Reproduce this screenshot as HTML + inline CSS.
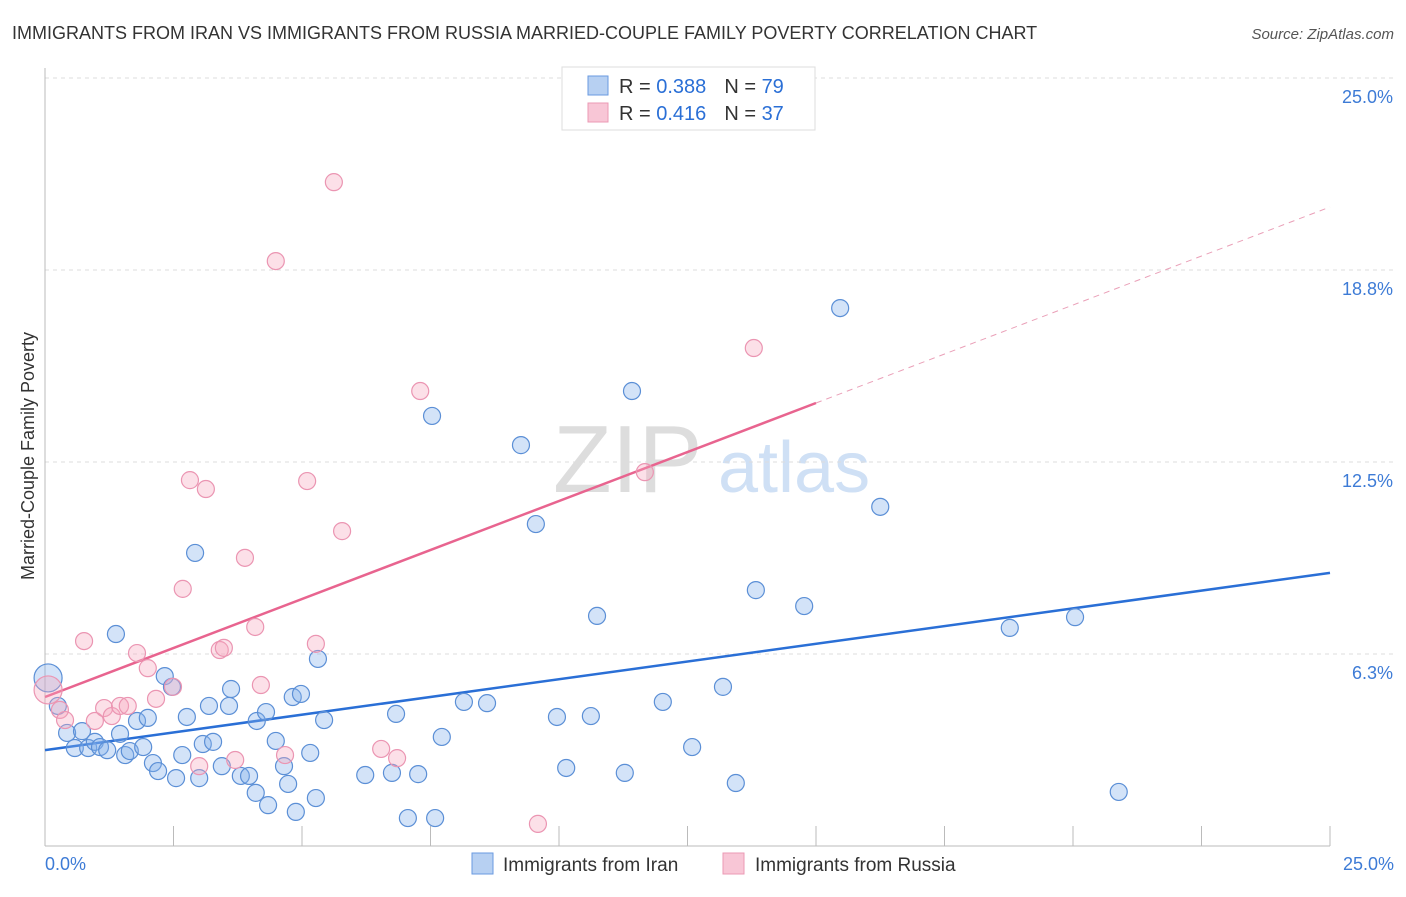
<!DOCTYPE html>
<html><head><meta charset="utf-8"><style>
body{margin:0;background:#fff;font-family:"Liberation Sans",sans-serif}
svg text{font-family:"Liberation Sans",sans-serif}
</style></head><body>
<svg id="chart" width="1406" height="892" viewBox="0 0 1406 892">
<text x="12" y="39" font-size="18" fill="#333">IMMIGRANTS FROM IRAN VS IMMIGRANTS FROM RUSSIA MARRIED-COUPLE FAMILY POVERTY CORRELATION CHART</text>
<text x="1394" y="39" font-size="15" fill="#555" text-anchor="end" font-style="italic">Source: ZipAtlas.com</text>
<g>
<text x="553" y="492" font-size="96" fill="#ddd" font-family="Liberation Serif">ZIP</text>
<text x="718" y="492" font-size="72" fill="#cfe0f5">atlas</text>
</g>
<g id="grid"></g><g id="axes"></g><g id="lines"></g><g id="points"></g>
<g>
<rect x="562" y="67" width="253" height="63" fill="#fff" stroke="#ddd"/>
<rect x="588" y="76" width="20" height="19" fill="#b7d0f2" stroke="#6a9ae0"/>
<rect x="588" y="103" width="20" height="19" fill="#f8c6d6" stroke="#eb9ab4"/>
<text x="619" y="93" font-size="20" fill="#333">R = <tspan fill="#2a6fd6">0.388</tspan><tspan dx="18">N = </tspan><tspan fill="#2a6fd6">79</tspan></text>
<text x="619" y="120" font-size="20" fill="#333">R = <tspan fill="#2a6fd6"> 0.416</tspan><tspan dx="18">N = </tspan><tspan fill="#2a6fd6">37</tspan></text>
</g>
<g>
<rect x="472" y="853" width="21" height="21" fill="#b7d0f2" stroke="#6a9ae0"/>
<text x="503" y="871" font-size="19" fill="#333">Immigrants from Iran</text>
<rect x="723" y="853" width="21" height="21" fill="#f8c6d6" stroke="#eb9ab4"/>
<text x="755" y="871" font-size="19" fill="#333">Immigrants from Russia</text>
</g>
<text transform="translate(34,456) rotate(-90)" font-size="18" fill="#333" text-anchor="middle">Married-Couple Family Poverty</text>
</svg>
<script>
const yTicks=[6.25,12.5,18.75,25];
const yTickLabels=["6.3%","12.5%","18.8%","25.0%"];
const xTickLabels=["0.0%","25.0%"];
const iranX=[.06,.25,.43,.58,.72,.84,.97,1.07,1.21,1.38,1.46,1.56,1.65,1.79,1.91,2.00,2.10,2.20,2.33,2.47,2.55,2.67,2.76,2.92,3.00,3.07,3.19,3.27,3.44,3.58,3.62,3.81,3.97,4.10,4.12,4.30,4.34,4.49,4.65,4.73,4.82,4.88,4.98,5.16,5.27,5.31,5.43,6.23,6.75,6.83,7.06,7.26,7.53,7.59,7.72,8.15,8.60,9.26,9.55,9.96,10.14,10.62,10.74,11.28,11.42,12.02,12.59,13.19,13.44,13.83,14.77,15.47,16.25,18.77,20.04,20.89];
const iranY=[5.47,4.56,3.68,3.19,3.74,3.19,3.39,3.22,3.12,6.90,3.65,2.96,3.09,4.07,3.22,4.17,2.70,2.44,5.53,5.18,2.21,2.96,4.20,9.54,2.21,3.32,4.56,3.39,2.60,4.56,5.11,2.28,2.28,1.73,4.07,4.36,1.33,3.42,2.60,2.02,4.85,1.11,4.95,3.03,1.56,6.09,4.10,2.31,2.38,4.30,0.91,2.34,14.00,0.91,3.55,4.69,4.65,13.05,10.48,4.20,2.54,4.23,7.49,2.38,14.81,4.69,3.22,5.18,2.05,8.33,7.81,17.51,11.04,7.10,7.45,1.76];
const russiaX=[.06,.29,.39,.76,.97,1.15,1.30,1.46,1.61,1.79,2.00,2.16,2.49,2.68,2.82,3.00,3.13,3.40,3.48,3.70,3.89,4.09,4.20,4.49,4.67,5.10,5.27,5.62,5.78,6.54,6.85,7.30,9.59,11.67,13.79];
const russiaY=[5.08,4.43,4.10,6.67,4.07,4.49,4.23,4.56,4.56,6.28,5.79,4.79,5.18,8.37,11.91,2.60,11.62,6.38,6.45,2.80,9.38,7.13,5.24,19.04,2.96,11.88,6.58,21.61,10.25,3.16,2.86,14.81,0.72,12.17,16.21];
const iranTrend=[3.12,8.89];
const russiaTrend=[4.85,14.42,20.8];
const russiaTrendX=[0,15,25];

const NS="http://www.w3.org/2000/svg";
const X=v=>45+v/25*1285, Y=v=>846-v/25*768;
function mk(t,a,p){const e=document.createElementNS(NS,t);for(const k in a)e.setAttribute(k,a[k]);p.appendChild(e);return e;}
const grid=document.getElementById('grid'),axes=document.getElementById('axes'),lines=document.getElementById('lines'),pts=document.getElementById('points');
yTicks.forEach((t,i)=>{
 const l=mk('line',{x1:45,x2:1394,y1:Y(t),y2:Y(t),stroke:'#ddd','stroke-dasharray':'4,4'},grid);
 
 
 const tx=mk('text',{x:1393,y:Y(t)+25,'font-size':18,fill:'#3d7bd6','text-anchor':'end'},axes);
 tx.textContent=yTickLabels[i];
 
 
});
const ax=mk('line',{x1:45,x2:1330,y1:846,y2:846,stroke:'#bbb'},axes);


const ay=mk('line',{x1:45,x2:45,y1:68,y2:846,stroke:'#bbb'},axes);


for(let i=0;i<=10;i++){const t=mk('line',{x1:X(i*2.5),x2:X(i*2.5),y1:826,y2:846,stroke:'#bbb'},axes);
 
 }
const xl0=mk('text',{x:45,y:870,'font-size':18,fill:'#3d7bd6'},axes);xl0.textContent=xTickLabels[0];


const xl1=mk('text',{x:1394,y:870,'font-size':18,fill:'#3d7bd6','text-anchor':'end'},axes);xl1.textContent=xTickLabels[1];


function dots(xs,ys,fill,stroke,name){xs.forEach((x,i)=>{const c=mk('circle',{cx:X(x),cy:Y(ys[i]),r:i===0?14:8.5,fill:fill,stroke:stroke,'stroke-width':1.2},pts);
 
 });}
dots(iranX,iranY,'rgba(130,175,235,0.35)','#5b8fd6','iran-point');
dots(russiaX,russiaY,'rgba(245,165,190,0.35)','#eb95b2','russia-point');
const bl=mk('line',{x1:X(0),y1:Y(iranTrend[0]),x2:X(25),y2:Y(iranTrend[1]),stroke:'#2a6fd6','stroke-width':2.5},lines);


const pl=mk('line',{x1:X(russiaTrendX[0]),y1:Y(russiaTrend[0]),x2:X(russiaTrendX[1]),y2:Y(russiaTrend[1]),stroke:'#e8648f','stroke-width':2.5},lines);


const pd=mk('line',{x1:X(russiaTrendX[1]),y1:Y(russiaTrend[1]),x2:X(russiaTrendX[2]),y2:Y(russiaTrend[2]),stroke:'#eaa0b8','stroke-width':1,'stroke-dasharray':'6,5'},lines);


</script>
</body></html>
